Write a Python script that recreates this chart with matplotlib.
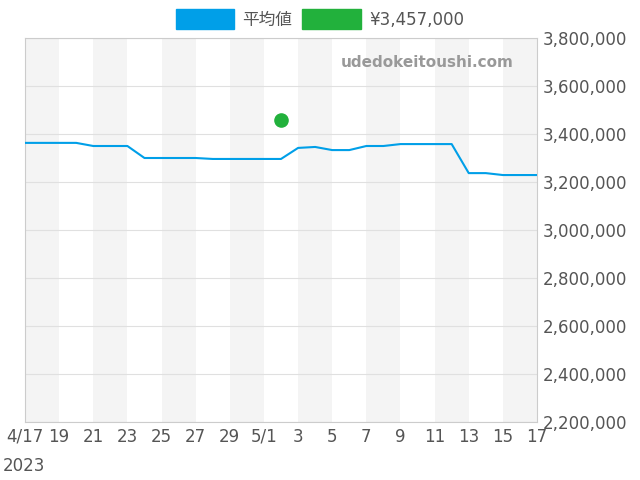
import matplotlib
matplotlib.use("Agg")
import matplotlib.pyplot as plt
import matplotlib.patches as mpatches
import numpy as np

plt.rcParams['font.family'] = ['DejaVu Sans', 'Noto Sans CJK JP']

days = list(range(0, 31))  # 0 = 4/17 ... 30 = 5/17
avg = [3363000]*4 + [3350000]*3 + [3300000]*4 + [3296000]*5 + [3342000, 3346000, 3333000, 3333000,
       3350000, 3350000, 3358000, 3358000, 3358000, 3358000, 3237000, 3237000, 3229000, 3229000, 3229000]
dot_day = 15
dot_val = 3457000
tick_labels = ["4/17", "19", "21", "23", "25", "27", "29", "5/1", "3", "5", "7", "9", "11", "13", "15", "17"]

fig = plt.figure(figsize=(6.4, 4.8), dpi=100)
ax = fig.add_axes([25/640, 1-422/480, 512/640, 384/480])
for s in range(0, 30, 4):
    ax.axvspan(s, s+2, color="#f4f4f4", lw=0, zorder=0)
ax.plot(days, avg, color="#009fe8", lw=1.5, zorder=3)
ax.scatter([dot_day], [dot_val], s=90, color="#22b13c", zorder=4)
ax.set_xlim(0, 30)
ax.set_ylim(2200000, 3800000)
ax.set_yticks(np.arange(2200000, 3800001, 200000))
ax.yaxis.tick_right()
ax.set_yticklabels([f"{v:,}" for v in np.arange(2200000, 3800001, 200000)])
ax.set_xticks(range(0, 31, 2))
ax.set_xticklabels(tick_labels)
ax.tick_params(labelsize=12, colors="#555555", length=0, pad=4)
ax.grid(axis="y", color="#e0e0e0", lw=0.8)
for sp in ax.spines.values():
    sp.set_color("#cccccc")
fig.text(3/640, 1-466/480, "2023", fontsize=12, color="#555555", va="center")
ax.text(0.955, 0.935, "udedokeitoushi.com", transform=ax.transAxes, ha="right", va="center",
        fontsize=11, color="#999999", fontweight="bold")
h1 = mpatches.Patch(color="#009fe8", label="平均値")
h2 = mpatches.Patch(color="#22b13c", label="¥3,457,000")
fig.legend(handles=[h1, h2], loc="center", bbox_to_anchor=(0.5, 1-19/480), ncol=2, frameon=False,
           fontsize=12, handlelength=3.5, handleheight=1.4, columnspacing=0.6, handletextpad=0.5,
           labelcolor="#555555")
fig.savefig("out.png", dpi=100)
